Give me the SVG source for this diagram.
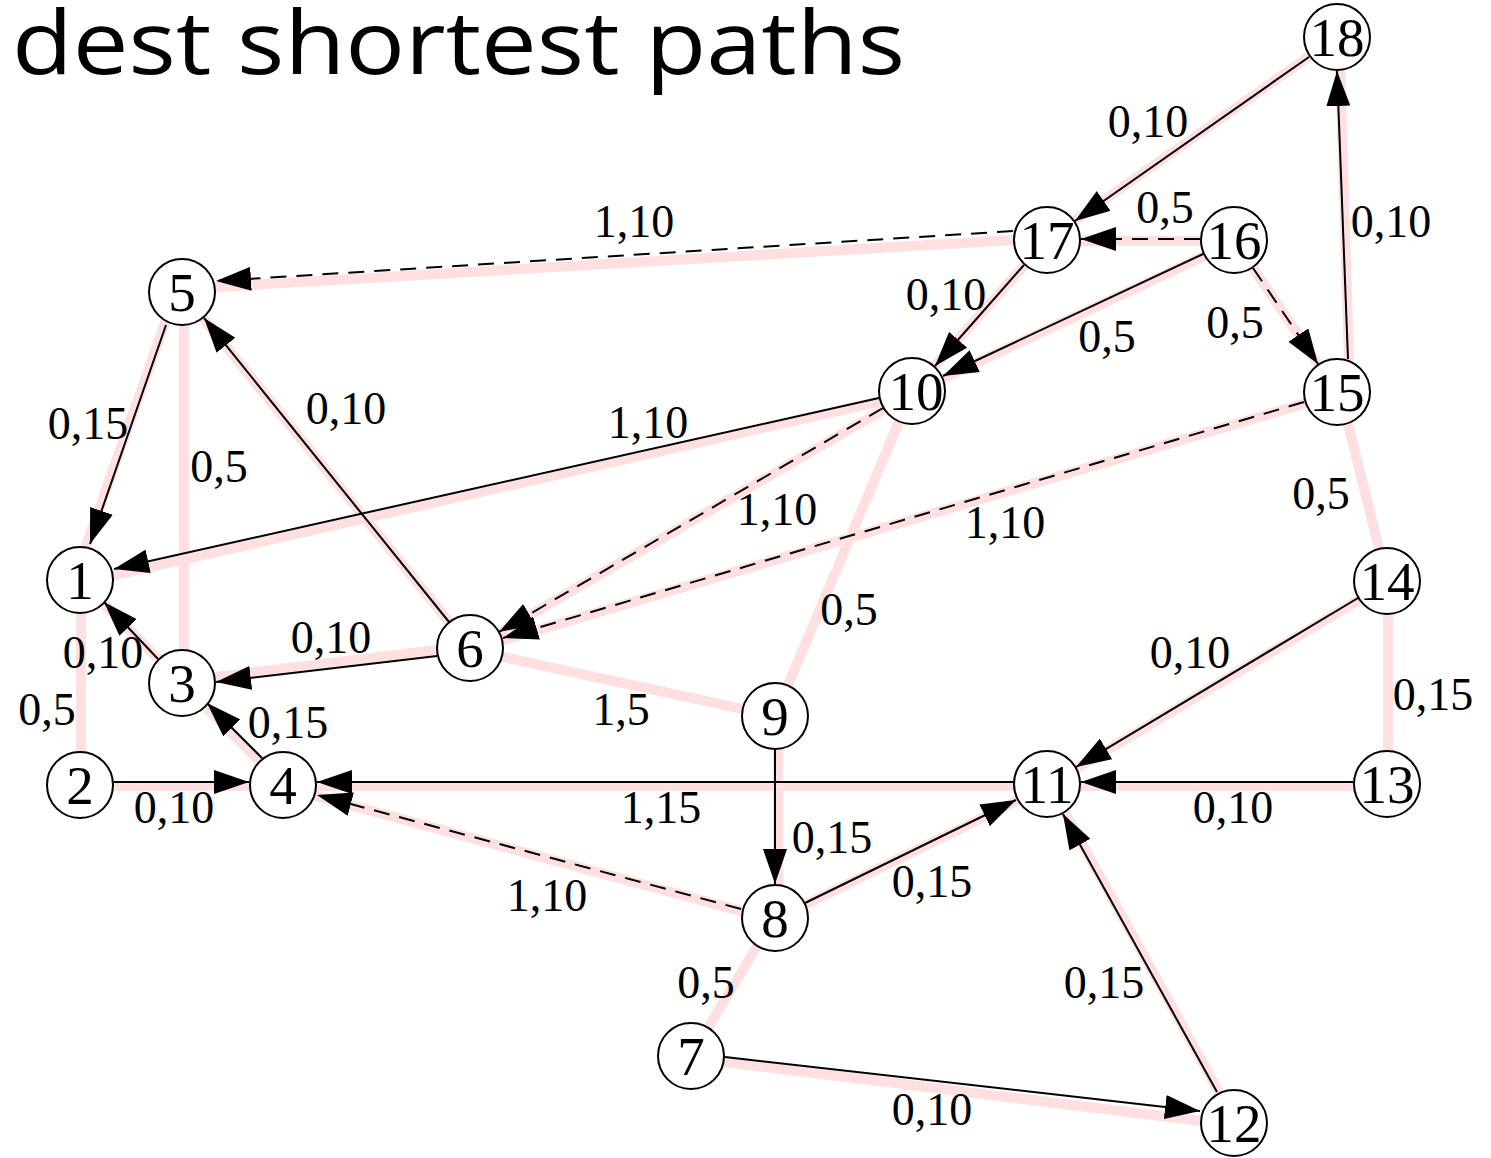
<svg xmlns="http://www.w3.org/2000/svg" width="1491" height="1158" viewBox="0 0 1491 1158">
<defs>
<marker id="ah" markerUnits="userSpaceOnUse" markerWidth="36" markerHeight="24" refX="35" refY="12" orient="auto">
<path d="M0,0 L35,12 L0,24 Z" fill="#000" stroke="none"/>
</marker>
<style>
.pk{stroke:#ffdfdf;stroke-width:10;fill:none}
.e{stroke:#000;stroke-width:2;fill:none;marker-end:url(#ah)}
.d{stroke-dasharray:16 10}
.n circle{fill:#fff;stroke:#000;stroke-width:2}
.n text{font-family:"Liberation Serif","Times New Roman",serif;font-size:55px;text-anchor:middle}
.lb{font-family:"Liberation Serif","Times New Roman",serif;font-size:46px;text-anchor:middle}
.title{font-family:"Open Sans","Noto Sans",sans-serif;font-size:88px;font-weight:400}
</style>
</defs>
<rect width="1491" height="1158" fill="#fff"/>
<text class="title" x="12" y="74" textLength="893" lengthAdjust="spacingAndGlyphs">dest shortest paths</text>
<g id="connectors">
<g id="pink">
<line class="pk" x1="1337" y1="37" x2="1047" y2="240"/>
<line class="pk" x1="1234" y1="241" x2="1047" y2="241"/>
<line class="pk" x1="1234" y1="240" x2="1337" y2="392"/>
<line class="pk" x1="1350" y1="392" x2="1339" y2="37"/>
<line class="pk" x1="1047" y1="238" x2="182" y2="289"/>
<line class="pk" x1="1047" y1="240" x2="912" y2="391"/>
<line class="pk" x1="1234" y1="242" x2="912" y2="393"/>
<line class="pk" x1="912" y1="394" x2="80" y2="583"/>
<line class="pk" x1="912" y1="393" x2="470" y2="650"/>
<line class="pk" x1="1337" y1="394" x2="470" y2="650"/>
<line class="pk" x1="176" y1="292" x2="74" y2="580"/>
<line class="pk" x1="184" y1="292" x2="184" y2="683"/>
<line class="pk" x1="470" y1="648" x2="182" y2="292"/>
<line class="pk" x1="182" y1="683" x2="80" y2="580"/>
<line class="pk" x1="81" y1="580" x2="81" y2="785"/>
<line class="pk" x1="470" y1="646" x2="182" y2="681"/>
<line class="pk" x1="283" y1="785" x2="182" y2="683"/>
<line class="pk" x1="80" y1="786" x2="283" y2="786"/>
<line class="pk" x1="1047" y1="786" x2="283" y2="786"/>
<line class="pk" x1="774" y1="920" x2="283" y2="787"/>
<line class="pk" x1="470" y1="650" x2="775" y2="716"/>
<line class="pk" x1="912" y1="391" x2="775" y2="716"/>
<line class="pk" x1="778" y1="716" x2="778" y2="918"/>
<line class="pk" x1="774" y1="920" x2="1047" y2="786"/>
<line class="pk" x1="774" y1="918" x2="691" y2="1056"/>
<line class="pk" x1="691" y1="1058" x2="1234" y2="1125"/>
<line class="pk" x1="1236" y1="1123" x2="1049" y2="784"/>
<line class="pk" x1="1387" y1="583" x2="1047" y2="786"/>
<line class="pk" x1="1387" y1="786" x2="1047" y2="786"/>
<line class="pk" x1="1388" y1="581" x2="1388" y2="784"/>
<line class="pk" x1="1340" y1="392" x2="1387" y2="581"/>
</g>
<g id="edges">
<line id="e18-17" class="e" x1="1309" y1="57" x2="1075" y2="221"/>
<line id="e16-17" class="e d" x1="1200" y1="239" x2="1081" y2="239"/>
<line id="e16-15" class="e d" x1="1253" y1="268" x2="1318" y2="364"/>
<line id="e15-18" class="e" x1="1348" y1="359" x2="1337" y2="71"/>
<line id="e17-5" class="e d" x1="1013" y1="231" x2="216" y2="281"/>
<line id="e17-10" class="e" x1="1024" y1="265" x2="935" y2="366"/>
<line id="e16-10" class="e" x1="1203" y1="254" x2="943" y2="376"/>
<line id="e10-1" class="e" x1="879" y1="398" x2="114" y2="569"/>
<line id="e10-6" class="e d" x1="883" y1="408" x2="499" y2="632"/>
<line id="e15-6" class="e d" x1="1304" y1="402" x2="503" y2="638"/>
<line id="e5-1" class="e" x1="166" y1="325" x2="90" y2="544"/>
<line id="e6-5" class="e" x1="449" y1="622" x2="204" y2="318"/>
<line id="e3-1" class="e" x1="158" y1="659" x2="104" y2="602"/>
<line id="e6-3" class="e" x1="437" y1="656" x2="216" y2="682"/>
<line id="e4-3" class="e" x1="262" y1="758" x2="207" y2="703"/>
<line id="e2-4" class="e" x1="114" y1="782" x2="249" y2="782"/>
<line id="e11-4" class="e" x1="1013" y1="782" x2="317" y2="782"/>
<line id="e8-4" class="e d" x1="741" y1="909" x2="317" y2="795"/>
<line id="e9-8" class="e" x1="775" y1="750" x2="775" y2="884"/>
<line id="e8-11" class="e" x1="805" y1="903" x2="1016" y2="800"/>
<line id="e7-12" class="e" x1="725" y1="1057" x2="1200" y2="1111"/>
<line id="e12-11" class="e" x1="1217" y1="1092" x2="1063" y2="814"/>
<line id="e14-11" class="e" x1="1358" y1="598" x2="1076" y2="767"/>
<line id="e13-11" class="e" x1="1353" y1="782" x2="1081" y2="782"/>
</g>
<g id="edge-labels">
<text class="lb" x="1148" y="137">0,10</text>
<text class="lb" x="1165" y="223">0,5</text>
<text class="lb" x="1391" y="237">0,10</text>
<text class="lb" x="634" y="237">1,10</text>
<text class="lb" x="946" y="310">0,10</text>
<text class="lb" x="1107" y="352">0,5</text>
<text class="lb" x="1235" y="338">0,5</text>
<text class="lb" x="88" y="439">0,15</text>
<text class="lb" x="346" y="424">0,10</text>
<text class="lb" x="648" y="438">1,10</text>
<text class="lb" x="219" y="482">0,5</text>
<text class="lb" x="777" y="525">1,10</text>
<text class="lb" x="1005" y="538">1,10</text>
<text class="lb" x="1321" y="509">0,5</text>
<text class="lb" x="849" y="625">0,5</text>
<text class="lb" x="103" y="668">0,10</text>
<text class="lb" x="331" y="653">0,10</text>
<text class="lb" x="1190" y="668">0,10</text>
<text class="lb" x="1433" y="710">0,15</text>
<text class="lb" x="47" y="725">0,5</text>
<text class="lb" x="621" y="725">1,5</text>
<text class="lb" x="288" y="738">0,15</text>
<text class="lb" x="174" y="823">0,10</text>
<text class="lb" x="661" y="823">1,15</text>
<text class="lb" x="1233" y="823">0,10</text>
<text class="lb" x="832" y="853">0,15</text>
<text class="lb" x="932" y="897">0,15</text>
<text class="lb" x="547" y="911">1,10</text>
<text class="lb" x="706" y="998">0,5</text>
<text class="lb" x="1104" y="998">0,15</text>
<text class="lb" x="932" y="1125">0,10</text>
</g>
</g>
<g id="node1" class="n"><circle cx="80" cy="580" r="33"/><text x="80" y="599">1</text></g>
<g id="node2" class="n"><circle cx="80" cy="785" r="33"/><text x="80" y="804">2</text></g>
<g id="node3" class="n"><circle cx="182" cy="683" r="33"/><text x="182" y="702">3</text></g>
<g id="node4" class="n"><circle cx="283" cy="785" r="33"/><text x="283" y="804">4</text></g>
<g id="node5" class="n"><circle cx="182" cy="292" r="33"/><text x="182" y="311">5</text></g>
<g id="node6" class="n"><circle cx="470" cy="648" r="33"/><text x="470" y="667">6</text></g>
<g id="node7" class="n"><circle cx="691" cy="1056" r="33"/><text x="691" y="1075">7</text></g>
<g id="node8" class="n"><circle cx="775" cy="918" r="33"/><text x="775" y="937">8</text></g>
<g id="node9" class="n"><circle cx="775" cy="716" r="33"/><text x="775" y="735">9</text></g>
<g id="node10" class="n"><circle cx="912" cy="391" r="33"/><text x="916" y="410">10</text></g>
<g id="node11" class="n"><circle cx="1047" cy="784" r="33"/><text x="1047" y="803">11</text></g>
<g id="node12" class="n"><circle cx="1234" cy="1123" r="33"/><text x="1234" y="1142">12</text></g>
<g id="node13" class="n"><circle cx="1387" cy="784" r="33"/><text x="1387" y="803">13</text></g>
<g id="node14" class="n"><circle cx="1387" cy="581" r="33"/><text x="1387" y="600">14</text></g>
<g id="node15" class="n"><circle cx="1337" cy="392" r="33"/><text x="1337" y="411">15</text></g>
<g id="node16" class="n"><circle cx="1234" cy="240" r="33"/><text x="1234" y="259">16</text></g>
<g id="node17" class="n"><circle cx="1047" cy="240" r="33"/><text x="1047" y="259">17</text></g>
<g id="node18" class="n"><circle cx="1337" cy="37" r="33"/><text x="1337" y="56">18</text></g>
</svg>
